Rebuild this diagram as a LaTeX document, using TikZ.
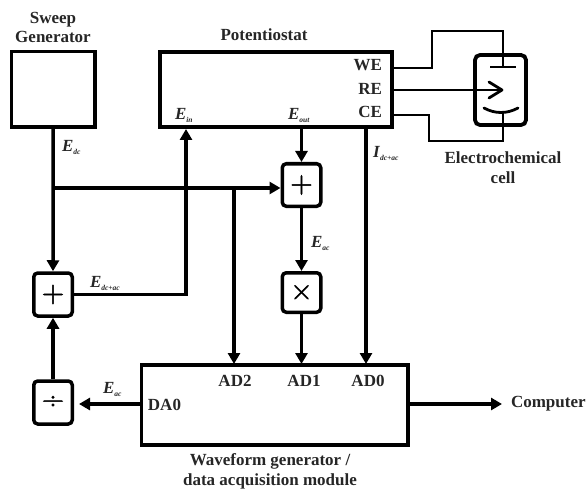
\documentclass[tikz,border=0pt]{standalone}
\usepackage{fontspec}
\setmainfont{Liberation Serif}
\newfontfamily\symfont[FakeBold=1.5]{Latin Modern Roman}
\usetikzlibrary{arrows.meta}
\newcommand{\sig}[2]{\textit{#1}\raisebox{-3pt}{\fontsize{7.5}{8}\selectfont\textit{#2}}}
\tikzset{
  x=1pt,y=-1pt,
  every node/.style={font=\fontsize{17}{19.5}\selectfont\bfseries,inner sep=0pt,outer sep=0pt,text=black!85},
  bigbox/.style={draw=black,line width=3.5pt,inner sep=0pt,anchor=north west},
  opbox/.style={draw=black,line width=3.5pt,rounded corners=4pt,minimum width=38.5pt,minimum height=43pt,
     font=\symfont\fontsize{31}{31}\selectfont,text=black,outer sep=1.75pt},
  wire/.style={draw=black,line width=3.5pt},
  flow/.style={wire,-{Triangle[length=11pt,width=12pt]}},
  thin wire/.style={draw=black,line width=2.8pt},
}
\begin{document}
\begin{tikzpicture}
\useasboundingbox (0,0) rectangle (588,489);
% boxes
\node[bigbox,minimum width=83.5pt,minimum height=75.5pt] (sweep) at (11.5,51.5) {};
\node[bigbox,minimum width=232pt,minimum height=75pt] (pot) at (160,52) {};
\node[bigbox,minimum width=266.5pt,minimum height=80pt] (wave) at (141.5,365) {};
\node[opbox] (plusa) at (53,294.5) {+};
\node[opbox] (diva) at (53,402.5) {÷};
\node[opbox,minimum height=42.5pt] (plusb) at (301.5,185) {+};
\node[opbox,minimum height=39.5pt] (mul) at (301.5,292.5) {×};
\node[draw=black,line width=3.8pt,rounded corners=5pt,minimum width=51pt,minimum height=70pt,anchor=north west] (cell) at (475,55) {};
% free ends and junctions
\coordinate (jdc) at (53,188);
\coordinate (pin) at (186,129);
\coordinate (pout) at (301.5,129);
\coordinate (pi) at (366,129);
\coordinate (in2) at (234,364);
\coordinate (in1) at (301.5,364);
\coordinate (in0) at (366,364);
\coordinate (jad) at (234,188);
\coordinate (we) at (392,68);
\coordinate (re) at (392,90);
\coordinate (ce) at (392,115);
\coordinate (weel) at (503,67);
\coordinate (ceel) at (503,113);
\coordinate (reel) at (502,90);
\coordinate (wav) at (408,404);
\coordinate (comp) at (502,404);
\coordinate (wavl) at (140,404);
\coordinate (divr) at (79,404);
% connectors
\draw[flow] (sweep.south) -- (plusa.north);
\draw[flow] (jdc) -- (plusb.west |- jdc);
\draw[flow] (jad) -- (in2);
\draw[flow] (pout) -- (plusb.north);
\draw[flow] (plusb.south) -- (mul.north);
\draw[flow] (mul.south) -- (in1);
\draw[flow] (pi) -- (in0);
\draw[flow] (plusa.east) -| (pin);
\draw[flow] (diva.north) -- (plusa.south);
\draw[flow] (wavl) -- (divr);
\draw[flow] (wav) -- (comp);
% cell wiring
\draw[thin wire] (we) -- (432,68) -- (432,31) -- (503,31) -- (weel);
\draw[thin wire] (490,67) -- (516,67);
\draw[thin wire] (re) -- (reel);
\draw[thin wire,line join=round,line cap=round] (489,82) -- (reel) -- (489,98);
\draw[thin wire] (ce) -- (429,115) -- (429,141) -- (503,141) -- (ceel);
\draw[thin wire,line cap=round] (484,108) .. controls (495,114) and (507,114) .. (518,108);
% labels
\node (tsweep) at (53,29) {\begin{tabular}{@{}c@{}}Sweep\\Generator\end{tabular}};
\node (tpot) at (264,35) {Potentiostat};
\node[anchor=east] (twe) at (382,65) {WE};
\node[anchor=east] (tre) at (382,89) {RE};
\node[anchor=east] (tce) at (382,112) {CE};
\node (tcell) at (503,169.5) {\begin{tabular}{@{}c@{}}Electrochemical\\cell\end{tabular}};
\node[anchor=west] (tein) at (175,115) {\sig{E}{in}};
\node[anchor=west] (teout) at (288,115) {\sig{E}{out}};
\node[anchor=west] (tidc) at (373,153) {\sig{I}{dc+ac}};
\node[anchor=west] (tedc) at (62,147) {\sig{E}{dc}};
\node[anchor=west] (tedcac) at (90,283) {\sig{E}{dc+ac}};
\node[anchor=west] (teac) at (311,243) {\sig{E}{ac}};
\node[anchor=west] (teacb) at (103,389) {\sig{E}{ac}};
\node (tad2) at (235,381) {AD2};
\node (tad1) at (304,381) {AD1};
\node (tad0) at (368,381) {AD0};
\node (tda0) at (164.5,405) {DA0};
\node[anchor=west] (tcomp) at (511,404) {Computer};
\node (twave) at (270,471.5) {\begin{tabular}{@{}c@{}}Waveform generator /\\data acquisition module\end{tabular}};
\end{tikzpicture}
\end{document}
